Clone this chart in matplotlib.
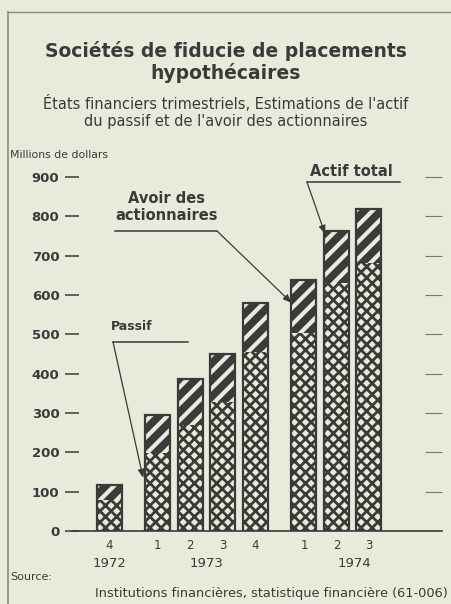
import matplotlib as mpl
import matplotlib.pyplot as plt
import numpy as np

# quarterly positions (gap between years)
positions = [0, 1.5, 2.5, 3.5, 4.5, 6, 7, 8]
quarters = ["4", "1", "2", "3", "4", "1", "2", "3"]
years = ["1972", "1973", "1974"]
year_pos = [0, 3.0, 7.55]

passif = [80, 198, 270, 328, 455, 504, 631, 682]
actif_total = [117, 295, 387, 450, 580, 639, 763, 819]
avoir = [t - p for t, p in zip(actif_total, passif)]

BG = "#e8ebdb"
INK = "#3a3a38"

mpl.rcParams.update({
    "font.family": ["DejaVu Sans"],
    "figure.facecolor": BG,
    "savefig.facecolor": BG,
    "axes.facecolor": BG,
    "text.color": INK,
})

fig = plt.figure(figsize=(4.52, 6.04), dpi=100)
ax = fig.add_axes([72 / 452, 1 - 531 / 604, 370 / 452, (531 - 177) / 604])
ax.set_facecolor("none")

x = np.array(positions)
w = 0.77

mpl.rcParams["hatch.linewidth"] = 2.0
ax.bar(x, passif, w, color=BG, edgecolor=INK, hatch="xxx", lw=0, zorder=2)
mpl.rcParams["hatch.linewidth"] = 3.0
ax.bar(x, avoir, w, bottom=passif, color=INK, edgecolor=BG, hatch="//", lw=0, zorder=2)
ax.bar(x, actif_total, w, fill=False, edgecolor=INK, lw=1.6, zorder=3)

ax.set_xlim(-1.14, 10.25)
ax.set_ylim(0, 900)
for s in ["top", "right", "left"]:
    ax.spines[s].set_visible(False)
ax.spines["bottom"].set_color(INK)
ax.spines["bottom"].set_linewidth(1.2)

ax.set_yticks(np.arange(0, 1000, 100))
ax.set_yticklabels([str(v) for v in range(0, 1000, 100)], fontsize=9.5, fontweight="bold", color=INK)
ax.tick_params(axis="y", direction="inout", length=10, width=1.1, color=INK, pad=4)
ax.tick_params(axis="x", length=0)
ax.set_xticks([])

# right-hand dashes
ax2 = ax.twinx()
ax2.set_ylim(0, 900)
ax2.set_yticks(np.arange(100, 1000, 100))
ax2.set_yticklabels([])
ax2.tick_params(axis="y", direction="in", length=12, width=0.8, color="#77786f")
for s in ax2.spines.values():
    s.set_visible(False)

for p, q in zip(positions, quarters):
    ax.text(p, -20, q, ha="center", va="top", fontsize=8.5, color=INK)
for p, yr in zip(year_pos, years):
    ax.text(p, -66, yr, ha="center", va="top", fontsize=9.5, color=INK)

# titles
fig.text(0.5, 1 - 62 / 604, "Sociétés de fiducie de placements\nhypothécaires",
         ha="center", va="center", fontsize=13.5, fontweight="bold", linespacing=1.1, color=INK)
fig.text(0.5, 1 - 112 / 604, "États financiers trimestriels, Estimations de l'actif\ndu passif et de l'avoir des actionnaires",
         ha="center", va="center", fontsize=10.5, linespacing=1.15, color=INK)
fig.text(10 / 452, 1 - 155 / 604, "Millions de dollars", ha="left", va="center", fontsize=7.8, color=INK)

fig.text(10 / 452, 1 - 577 / 604, "Source:", ha="left", va="center", fontsize=8, color=INK)
fig.text(448 / 452, 1 - 594 / 604, "Institutions financières, statistique financière (61-006)",
         ha="right", va="center", fontsize=9.3, color=INK)

# frame lines
fig.add_artist(plt.Line2D([8 / 452, 8 / 452], [0, 1 - 12 / 604], color="#8a8c80", lw=1.2))
fig.add_artist(plt.Line2D([8 / 452, 1], [1 - 12 / 604, 1 - 12 / 604], color="#8a8c80", lw=1.0))


def label(text, xy_text, line_x, line_y, start_x, tip, size):
    fig.text(xy_text[0] / 452, 1 - xy_text[1] / 604, text, ha="center", va="center",
             fontsize=size, fontweight="bold", linespacing=1.1, color=INK)
    fig.add_artist(plt.Line2D([line_x[0] / 452, line_x[1] / 452], [1 - line_y / 604] * 2, color=INK, lw=1.1))
    ax.annotate("", xy=tip, xycoords="data",
                xytext=(start_x / 452, 1 - line_y / 604), textcoords="figure fraction",
                arrowprops=dict(arrowstyle="-|>,head_length=0.5,head_width=0.2", color=INK, lw=0.9,
                                shrinkA=0, shrinkB=0),
                annotation_clip=False)


# leader labels (tips in data coords)
label("Actif total", (351, 172), (307, 400), 182, 307, (6.65, 763 - 8), 10.5)
label("Avoir des\nactionnaires", (167, 207), (115, 217), 231, 217, (5.62, 580), 10.5)
label("Passif", (132, 327), (113, 188), 342, 113, (1.05, 135), 9)

fig.savefig("out.png", dpi=100)
